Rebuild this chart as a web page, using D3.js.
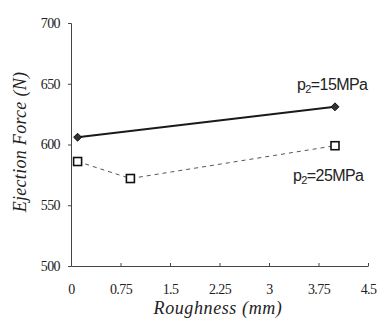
<!DOCTYPE html>
<html>
<head>
<meta charset="utf-8">
<script src="https://cdn.jsdelivr.net/npm/d3@7"></script>
<style>
  html, body { margin: 0; padding: 0; background: #fff; }
  svg { display: block; }
</style>
</head>
<body>
<svg id="chart" width="381" height="320"></svg>
<script>
// ── DATA ─────────────────────────────────────────────────────────────────────
const roughness15 = [0.1, 4.0];
const force15     = [606, 631];
const roughness25 = [0.1, 0.9, 4.0];
const force25     = [586, 572, 599];
const xTicks = [0, 0.75, 1.5, 2.25, 3, 3.75, 4.5];
const yTicks = [500, 550, 600, 650, 700];
const seriesLabels = ['15MPa', '25MPa'];

// ── SETUP ────────────────────────────────────────────────────────────────────
const SERIF = "'Liberation Serif', 'Times New Roman', serif";
const SANS  = "'Liberation Sans', Arial, sans-serif";
const svg = d3.select('#chart');
const mLeft = 71, mRight = 368, mTop = 23, mBottom = 266;

const x = d3.scaleLinear().domain([0, 4.5]).range([mLeft, mRight]);
const y = d3.scaleLinear().domain([500, 700]).range([mBottom, mTop]);

function styleTicks(sel) {
  sel.attr('font-family', SERIF).attr('font-size', 14);
  sel.selectAll('.tick text').attr('fill', '#222').attr('letter-spacing', -0.6);
  sel.selectAll('.tick line').attr('stroke', '#444');
}

// y axis
const yAxis = svg.append('g').attr('transform', `translate(${mLeft},0)`)
  .call(d3.axisLeft(y).tickValues(yTicks).tickSize(3).tickPadding(8).tickFormat(d3.format('d')));
styleTicks(yAxis);
yAxis.select('.domain').attr('stroke', '#444').attr('stroke-width', 1);
yAxis.selectAll('.tick').filter(d => d === 500).select('line').remove();

// x axis (ticks point up into plot)
const xAxis = svg.append('g').attr('transform', `translate(0,${mBottom})`)
  .call(d3.axisBottom(x).tickValues(xTicks).tickSizeInner(-3).tickSizeOuter(0).tickPadding(18)
    .tickFormat(d => String(d)));
styleTicks(xAxis);
xAxis.select('.domain').attr('stroke', '#444').attr('stroke-width', 1.2);
xAxis.selectAll('.tick').filter(d => d === 0).select('line').remove();

// axis titles
svg.append('text')
  .attr('transform', `translate(26,142) rotate(-90)`)
  .attr('text-anchor', 'middle')
  .attr('font-family', SERIF).attr('font-style', 'italic').attr('font-size', 18)
  .attr('letter-spacing', 0.3).attr('fill', '#222')
  .text('Ejection Force (N)');
svg.append('text')
  .attr('x', 218).attr('y', 314)
  .attr('text-anchor', 'middle')
  .attr('font-family', SERIF).attr('font-style', 'italic').attr('font-size', 18)
  .attr('letter-spacing', 0.6).attr('fill', '#222')
  .text('Roughness (mm)');

// ── SERIES ───────────────────────────────────────────────────────────────────
const pts15 = roughness15.map((r, i) => [r, force15[i]]);
const pts25 = roughness25.map((r, i) => [r, force25[i]]);
const line = d3.line().x(d => x(d[0])).y(d => y(d[1]));

svg.append('path').datum(pts25).attr('d', line)
  .attr('fill', 'none').attr('stroke', '#555').attr('stroke-width', 1)
  .attr('stroke-dasharray', '4,4');
svg.append('path').datum(pts15).attr('d', line)
  .attr('fill', 'none').attr('stroke', '#1a1a1a').attr('stroke-width', 2);

svg.selectAll('.diamond').data(pts15).join('path').attr('class', 'diamond')
  .attr('transform', d => `translate(${x(d[0])},${y(d[1])})`)
  .attr('d', d3.symbol(d3.symbolDiamond2, 40)())
  .attr('fill', '#333').attr('stroke', '#111').attr('stroke-width', 1);

svg.selectAll('.square').data(pts25).join('rect').attr('class', 'square')
  .attr('x', d => x(d[0]) - 4).attr('y', d => y(d[1]) - 4)
  .attr('width', 8).attr('height', 8)
  .attr('fill', '#fff').attr('stroke', '#111').attr('stroke-width', 1.6);

// series labels
const labelPos = [[297, 90], [293, 181]];
seriesLabels.forEach((s, i) => {
  const t = svg.append('text')
    .attr('font-family', SANS).attr('font-size', 16).attr('letter-spacing', -0.6)
    .attr('fill', '#222')
    .attr('x', labelPos[i][0]).attr('y', labelPos[i][1]);
  t.append('tspan').text('p');
  t.append('tspan').attr('font-size', 11).attr('dy', 3).text('2');
  t.append('tspan').attr('dy', -3).text('=' + s);
});
</script>
</body>
</html>
